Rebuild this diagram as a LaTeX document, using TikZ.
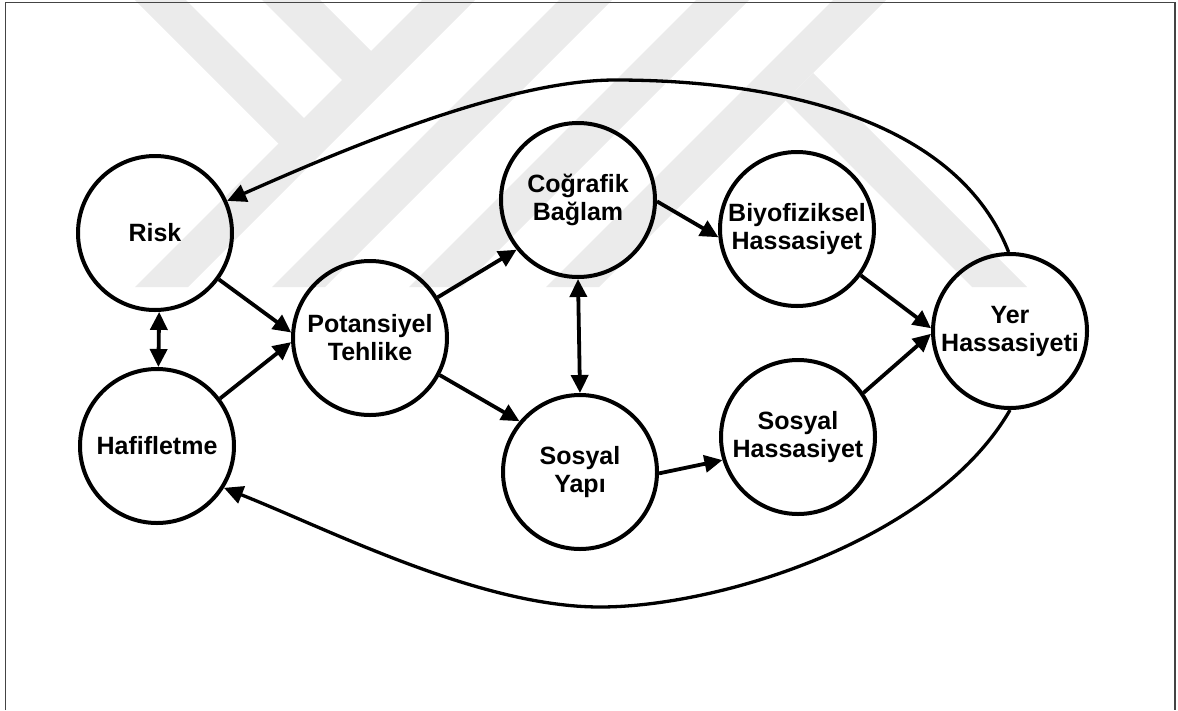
\documentclass[tikz,border=0pt]{standalone}
\usepackage{fontspec}
\setmainfont{Liberation Sans}
\usetikzlibrary{arrows.meta}
\definecolor{framegray}{HTML}{444444}
\definecolor{logogray}{HTML}{EBEBEB}
\tikzset{
  x=1pt, y=-1pt,
  concept/.style={circle, draw=black, line width=4pt, minimum size=154pt,
    inner sep=0pt, align=center, font=\fontsize{25}{28}\selectfont\bfseries},
  link/.style={line width=3.8pt, -{Triangle[length=18pt,width=17pt]}},
  twoway/.style={line width=3.8pt, {Triangle[length=18pt,width=17pt]}-{Triangle[length=18pt,width=17pt]}},
  feedback/.style={line width=3.3pt, -{Triangle[length=19pt,width=18pt]}},
  logoband/.style={fill=logogray, draw=none}
}
\begin{document}
\begin{tikzpicture}
\useasboundingbox (0,0) rectangle (1178,710);

% faint logo in the background: two short arms joining the first stripe,
% four parallel stripes and a leg off the last one
\fill[logoband] (135,0) -- (186,0) -- (304.5,118.5) -- (279,144) -- cycle;
\fill[logoband] (262,0) -- (320,0) -- (371.5,51.5) -- (342.5,80.5) -- cycle;
\fill[logoband] (422,0) -- (475,0) -- (188,287) -- (135,287) -- cycle;
\fill[logoband] (559,0) -- (612,0) -- (325,287) -- (272,287) -- cycle;
\fill[logoband] (696,0) -- (749,0) -- (462,287) -- (409,287) -- cycle;
\fill[logoband] (833,0) -- (886,0) -- (599,287) -- (546,287) -- cycle;
\fill[logoband] (813,73) -- (1027,287) -- (972,287) -- (785.5,100.5) -- cycle;

% page frame
\draw[framegray, line width=1.3pt] (5.5,710) -- (5.5,2.7) -- (1175,2.7) -- (1175,710);

% concepts
\node[concept] (risk) at (155,233) {Risk};
\node[concept] (haf)  at (157,446) {Hafifletme};
\node[concept] (pot)  at (370,338) {Potansiyel\\Tehlike};
\node[concept] (cog)  at (578,200) {Coğrafik\\Bağlam};
\node[concept] (yapi) at (580,472) {Sosyal\\Yapı};
\node[concept] (biyo) at (797,229) {Biyofiziksel\\Hassasiyet};
\node[concept] (sosh) at (798,437) {Sosyal\\Hassasiyet};
\node[concept] (yer)  at (1010,331) {Yer\\Hassasiyeti};

% direct links
\draw[link] (risk.-36) -- (pot.176);
\draw[link] (haf.37) -- (pot.183);
\draw[twoway] (risk.-87) -- (haf.89);
\draw[link] (pot.31) -- (cog.219);
\draw[link] (pot.-28) -- (yapi.140);
\draw[twoway] (cog.south) -- (yapi.north);
\draw[link] (cog.-1) -- (biyo.186);
\draw[link] (yapi.-1) -- (sosh.197);
\draw[link] (biyo.-36) -- (yer.178);
\draw[link] (sosh.34) -- (yer.182);

% feedback loops
\coordinate (crest) at (615,80);
\coordinate (trough) at (600,607);
\draw[feedback] (yer.91) .. controls (945,90) and (700,80) .. (crest)
  .. controls (500,80) and (320,160) .. (risk.24);
\draw[feedback] (yer.-90) .. controls (935,540) and (720,607) .. (trough)
  .. controls (480,607) and (330,530) .. (haf.-32);
\end{tikzpicture}
\end{document}
